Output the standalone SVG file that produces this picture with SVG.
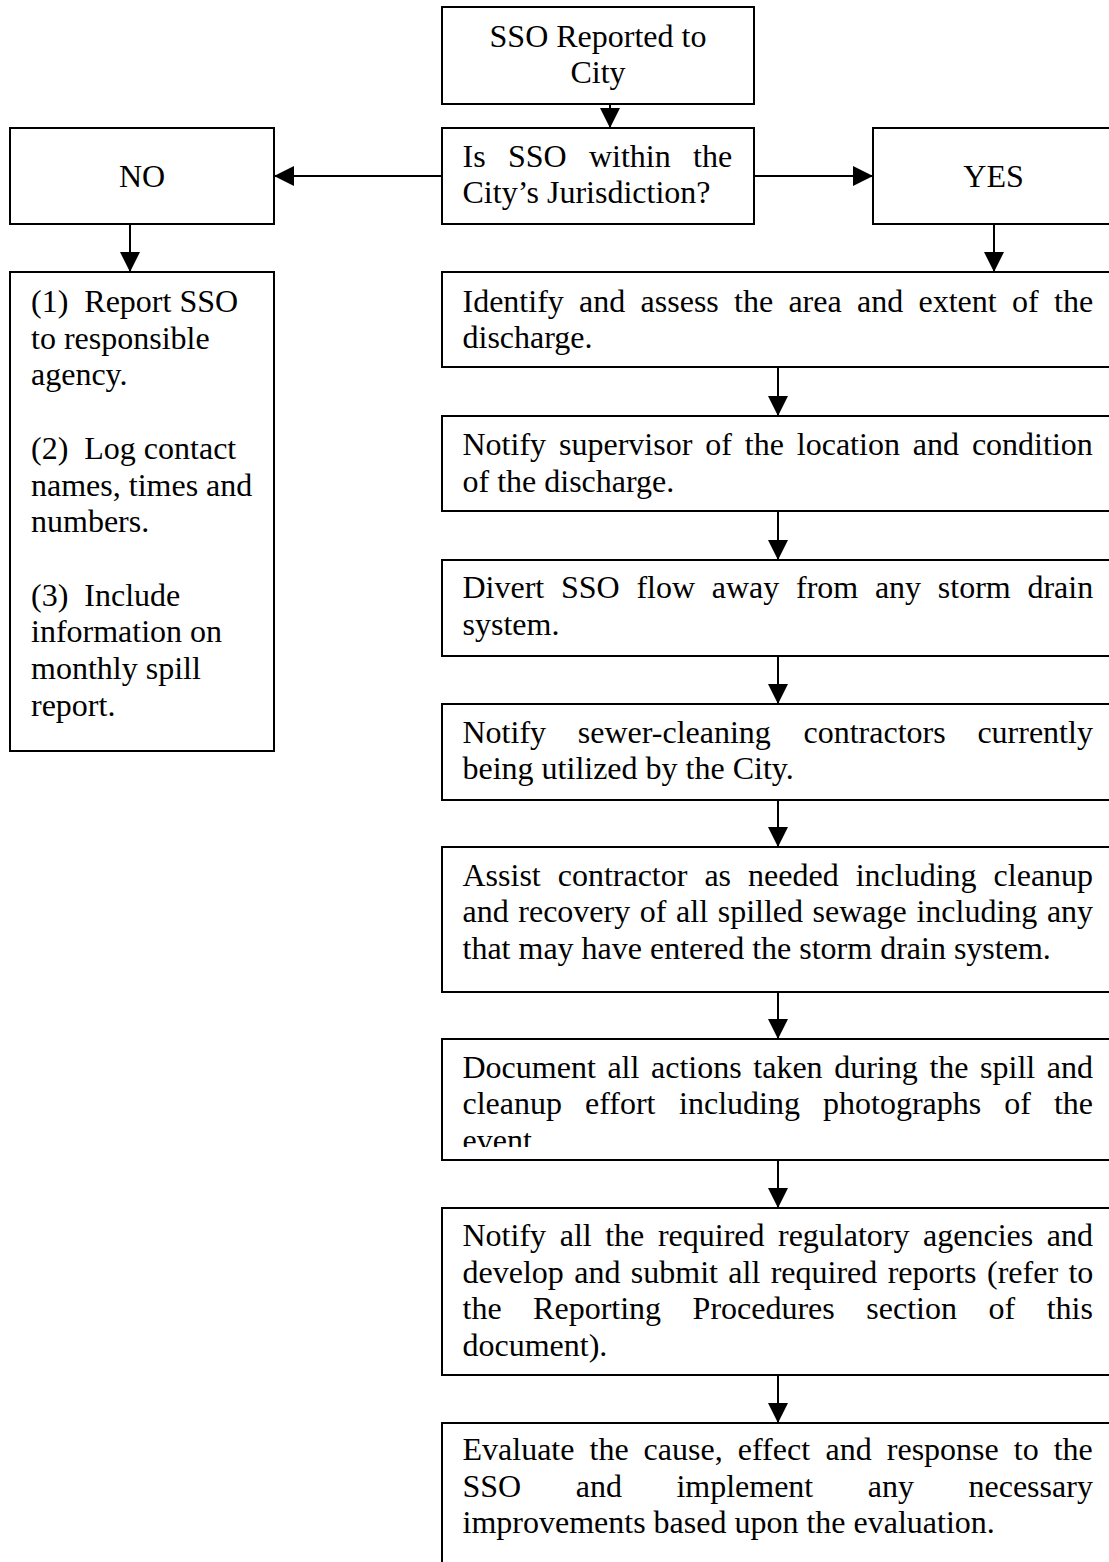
<svg xmlns="http://www.w3.org/2000/svg" width="1109" height="1562" viewBox="0 0 1109 1562">
<style>
.box{fill:#fff;stroke:#000;stroke-width:2}
.t{font-family:"Liberation Serif","Times New Roman",serif;font-size:32px;fill:#000}
.c{text-anchor:middle}
.pre{white-space:pre}
.ln{stroke:#000;stroke-width:2;fill:none;marker-end:url(#ah)}
</style>
<defs>
<marker id="ah" markerUnits="userSpaceOnUse" markerWidth="20" markerHeight="20" refX="20" refY="10" orient="auto">
<path d="M0,0 L20,10 L0,20 Z" fill="#000"/>
</marker>
<clipPath id="docclip"><rect x="440" y="1039" width="670" height="108"/></clipPath>
</defs>
<rect width="1109" height="1562" fill="#fff"/>

<g id="connectors">
<line class="ln" x1="610" y1="104" x2="610" y2="128"/>
<line class="ln" x1="442" y1="176" x2="274" y2="176"/>
<line class="ln" x1="754" y1="176" x2="873" y2="176"/>
<line class="ln" x1="130" y1="224" x2="130" y2="272"/>
<line class="ln" x1="994" y1="224" x2="994" y2="272"/>
<line class="ln" x1="778" y1="367" x2="778" y2="416"/>
<line class="ln" x1="778" y1="511" x2="778" y2="560"/>
<line class="ln" x1="778" y1="656" x2="778" y2="704"/>
<line class="ln" x1="778" y1="800" x2="778" y2="847"/>
<line class="ln" x1="778" y1="992" x2="778" y2="1039"/>
<line class="ln" x1="778" y1="1160" x2="778" y2="1208"/>
<line class="ln" x1="778" y1="1375" x2="778" y2="1423"/>
</g>

<g id="n-start">
<rect class="box" x="442" y="7" width="312" height="97"/>
<text class="t c" x="598" y="47">SSO Reported to</text>
<text class="t c" x="598" y="83">City</text>
</g>

<g id="n-decision">
<rect class="box" x="442" y="128" width="312" height="96"/>
<text class="t" y="167"><tspan x="462.5">Is</tspan><tspan x="507.9">SSO</tspan><tspan x="588.9">within</tspan><tspan x="693">the</tspan></text>
<text class="t" x="462.5" y="203">City’s Jurisdiction?</text>
</g>

<g id="n-no">
<rect class="box" x="10" y="128" width="264" height="96"/>
<text class="t c" x="142" y="187">NO</text>
</g>

<g id="n-yes">
<rect class="box" x="873" y="128" width="241" height="96"/>
<text class="t c" x="993.5" y="187">YES</text>
</g>

<g id="n-no-actions">
<rect class="box" x="10" y="272" width="264" height="479"/>
<text class="t pre" x="31" y="312">(1)  Report SSO</text>
<text class="t" x="31" y="348.7">to responsible</text>
<text class="t" x="31" y="385.4">agency.</text>
<text class="t pre" x="31" y="458.8">(2)  Log contact</text>
<text class="t" x="31" y="495.5">names, times and</text>
<text class="t" x="31" y="532.2">numbers.</text>
<text class="t pre" x="31" y="605.6">(3)  Include</text>
<text class="t" x="31" y="642.3">information on</text>
<text class="t" x="31" y="679">monthly spill</text>
<text class="t" x="31" y="715.7">report.</text>
</g>

<g id="n-identify">
<rect class="box" x="442" y="272" width="672" height="95"/>
<text class="t" y="311.5"><tspan x="462.5">Identify</tspan><tspan x="579.1">and</tspan><tspan x="640.6">assess</tspan><tspan x="734">the</tspan><tspan x="788.4">area</tspan><tspan x="857">and</tspan><tspan x="918.5">extent</tspan><tspan x="1012">of</tspan><tspan x="1054">the</tspan></text>
<text class="t" x="462.5" y="348.2">discharge.</text>
</g>

<g id="n-notify-supervisor">
<rect class="box" x="442" y="416" width="672" height="95"/>
<text class="t" y="455"><tspan x="462.5">Notify</tspan><tspan x="559">supervisor</tspan><tspan x="705.2">of</tspan><tspan x="744.8">the</tspan><tspan x="796.8">location</tspan><tspan x="912.8">and</tspan><tspan x="971.9">condition</tspan></text>
<text class="t" x="462.5" y="491.7">of the discharge.</text>
</g>

<g id="n-divert">
<rect class="box" x="442" y="560" width="672" height="96"/>
<text class="t" y="598"><tspan x="462.5">Divert</tspan><tspan x="561">SSO</tspan><tspan x="636.4">flow</tspan><tspan x="711.8">away</tspan><tspan x="796">from</tspan><tspan x="874.9">any</tspan><tspan x="937.8">storm</tspan><tspan x="1027.4">drain</tspan></text>
<text class="t" x="462.5" y="634.7">system.</text>
</g>

<g id="n-notify-contractors">
<rect class="box" x="442" y="704" width="672" height="96"/>
<text class="t" y="742.5"><tspan x="462.5">Notify</tspan><tspan x="577.8">sewer-cleaning</tspan><tspan x="803.5">contractors</tspan><tspan x="977.4">currently</tspan></text>
<text class="t" x="462.5" y="779.2">being utilized by the City.</text>
</g>

<g id="n-assist">
<rect class="box" x="442" y="847" width="672" height="145"/>
<text class="t" y="885.5"><tspan x="462.5">Assist</tspan><tspan x="557.7">contractor</tspan><tspan x="704.4">as</tspan><tspan x="748.1">needed</tspan><tspan x="855.7">including</tspan><tspan x="993.6">cleanup</tspan></text>
<text class="t" y="922.2"><tspan x="462.5">and</tspan><tspan x="518.3">recovery</tspan><tspan x="639.8">of</tspan><tspan x="676.1">all</tspan><tspan x="717.7">spilled</tspan><tspan x="812.6">sewage</tspan><tspan x="916.4">including</tspan><tspan x="1046.9">any</tspan></text>
<text class="t" x="462.5" y="958.9">that may have entered the storm drain system.</text>
</g>

<g id="n-document">
<rect class="box" x="442" y="1039" width="672" height="121"/>
<g clip-path="url(#docclip)">
<text class="t" y="1077.5"><tspan x="462.5">Document</tspan><tspan x="607.4">all</tspan><tspan x="651">actions</tspan><tspan x="753.3">taken</tspan><tspan x="834.2">during</tspan><tspan x="929.4">the</tspan><tspan x="980.1">spill</tspan><tspan x="1046.8">and</tspan></text>
<text class="t" y="1114.2"><tspan x="462.5">cleanup</tspan><tspan x="585">effort</tspan><tspan x="679.1">including</tspan><tspan x="823">photographs</tspan><tspan x="1004.2">of</tspan><tspan x="1053.9">the</tspan></text>
<text class="t" x="462.5" y="1150.9">event</text>
</g>
</g>

<g id="n-notify-agencies">
<rect class="box" x="442" y="1208" width="672" height="167"/>
<text class="t" y="1246"><tspan x="462.5">Notify</tspan><tspan x="559.7">all</tspan><tspan x="605.2">the</tspan><tspan x="657.9">required</tspan><tspan x="778">regulatory</tspan><tspan x="923.1">agencies</tspan><tspan x="1046.8">and</tspan></text>
<text class="t" y="1282.7"><tspan x="462.5">develop</tspan><tspan x="574.2">and</tspan><tspan x="630.8">submit</tspan><tspan x="728.3">all</tspan><tspan x="770.7">required</tspan><tspan x="887.7">reports</tspan><tspan x="987">(refer</tspan><tspan x="1068.4">to</tspan></text>
<text class="t" y="1319.4"><tspan x="462.5">the</tspan><tspan x="533.1">Reporting</tspan><tspan x="692.6">Procedures</tspan><tspan x="866.3">section</tspan><tspan x="988.5">of</tspan><tspan x="1046.7">this</tspan></text>
<text class="t" x="462.5" y="1356.1">document).</text>
</g>

<g id="n-evaluate">
<rect class="box" x="442" y="1423" width="672" height="150"/>
<text class="t" y="1460"><tspan x="462.5">Evaluate</tspan><tspan x="589.5">the</tspan><tspan x="643.6">cause,</tspan><tspan x="737.8">effect</tspan><tspan x="825.6">and</tspan><tspan x="886.8">response</tspan><tspan x="1013.8">to</tspan><tspan x="1053.7">the</tspan></text>
<text class="t" y="1496.7"><tspan x="462.5">SSO</tspan><tspan x="575.7">and</tspan><tspan x="676.4">implement</tspan><tspan x="867.8">any</tspan><tspan x="968.5">necessary</tspan></text>
<text class="t" x="462.5" y="1533.4">improvements based upon the evaluation.</text>
</g>
</svg>
